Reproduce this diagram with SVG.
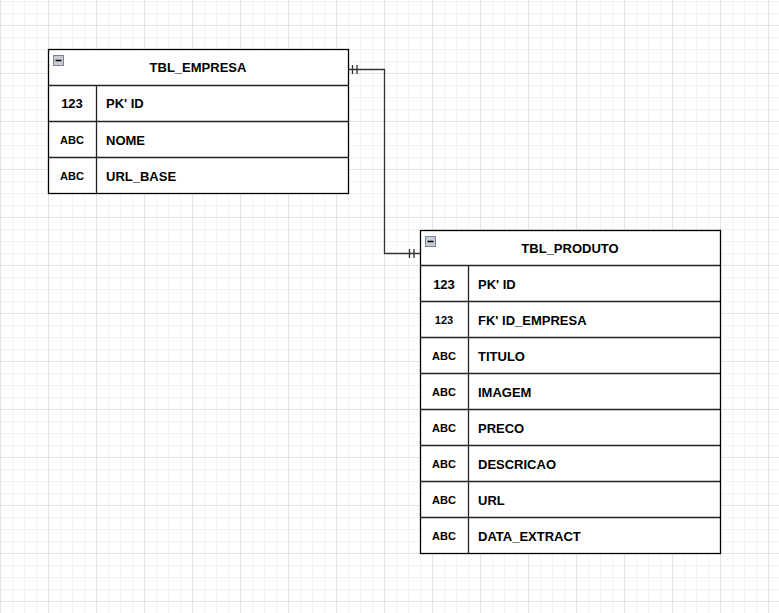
<svg xmlns="http://www.w3.org/2000/svg" width="779" height="613" viewBox="0 0 779 613">
<defs>
<pattern id="minor" width="12" height="12" patternUnits="userSpaceOnUse" x="0" y="1">
<path d="M0 0.5H12M0.5 0V12" fill="none" stroke="#f2f2f2" stroke-width="1"/>
</pattern>
<pattern id="major" width="48" height="48" patternUnits="userSpaceOnUse" x="0" y="25">
<path d="M0 0.5H48M0.5 0V48" fill="none" stroke="#e3e3e3" stroke-width="1"/>
</pattern>
<g id="minus">
<rect x="0.5" y="0.5" width="10" height="10" fill="#c8ccd6" stroke="#7d8494"/>
<path d="M2.5 5.5H8.5" stroke="#000" stroke-width="1.5"/>
</g>
</defs>
<style>
.tbl{fill:#fff;stroke:#000;stroke-width:1.3}
.sep{stroke:#222;stroke-width:1.3;fill:none}
.hd{font-family:"Liberation Sans",Arial,sans-serif;font-weight:bold;font-size:13px;fill:#000;text-anchor:middle}
.fld{font-family:"Liberation Sans",Arial,sans-serif;font-weight:bold;font-size:13px;fill:#000}
.ty{font-family:"Liberation Sans",Arial,sans-serif;font-weight:bold;font-size:13px;fill:#000;text-anchor:middle}
.tys{font-family:"Liberation Sans",Arial,sans-serif;font-weight:bold;font-size:11px;fill:#000;text-anchor:middle}
.con{stroke:#333;stroke-width:1.3;fill:none}
</style>
<rect width="779" height="613" fill="#fff"/>
<rect width="779" height="613" fill="url(#minor)"/>
<rect width="779" height="613" fill="url(#major)"/>

<g id="connectors">
<path class="con" d="M348.5 69.5H384.5V253.5H420.5"/>
<path class="con" d="M352.5 65V74M357 65V74"/>
<path class="con" d="M409.5 249V258M414 249V258"/>
</g>

<g id="tbl_empresa">
<rect class="tbl" x="48.5" y="49.5" width="300" height="144"/>
<path class="sep" d="M48.5 85.5H348.5M48.5 121.5H348.5M48.5 157.5H348.5M96.5 85.5V193.5"/>
<use href="#minus" x="53" y="55"/>
<text class="hd" x="198" y="72">TBL_EMPRESA</text>
<text class="ty" x="72" y="108">123</text>
<text class="fld" x="106" y="108">PK' ID</text>
<text class="tys" x="72" y="144">ABC</text>
<text class="fld" x="106" y="145">NOME</text>
<text class="tys" x="72" y="180">ABC</text>
<text class="fld" x="106" y="181">URL_BASE</text>
</g>

<g id="tbl_produto">
<rect class="tbl" x="420.5" y="230.5" width="300" height="323"/>
<path class="sep" d="M420.5 265.5H720.5M420.5 301.5H720.5M420.5 337.5H720.5M420.5 373.5H720.5M420.5 409.5H720.5M420.5 445.5H720.5M420.5 481.5H720.5M420.5 517.5H720.5M468.5 265.5V553.5"/>
<use href="#minus" x="425" y="236"/>
<text class="hd" x="570" y="253">TBL_PRODUTO</text>
<text class="ty" x="444" y="289">123</text>
<text class="fld" x="478" y="289">PK' ID</text>
<text class="tys" x="444" y="324">123</text>
<text class="fld" x="478" y="325">FK' ID_EMPRESA</text>
<text class="tys" x="444" y="360">ABC</text>
<text class="fld" x="478" y="361">TITULO</text>
<text class="tys" x="444" y="396">ABC</text>
<text class="fld" x="478" y="397">IMAGEM</text>
<text class="tys" x="444" y="432">ABC</text>
<text class="fld" x="478" y="433">PRECO</text>
<text class="tys" x="444" y="468">ABC</text>
<text class="fld" x="478" y="469">DESCRICAO</text>
<text class="tys" x="444" y="504">ABC</text>
<text class="fld" x="478" y="505">URL</text>
<text class="tys" x="444" y="540">ABC</text>
<text class="fld" x="478" y="541">DATA_EXTRACT</text>
</g>
</svg>
